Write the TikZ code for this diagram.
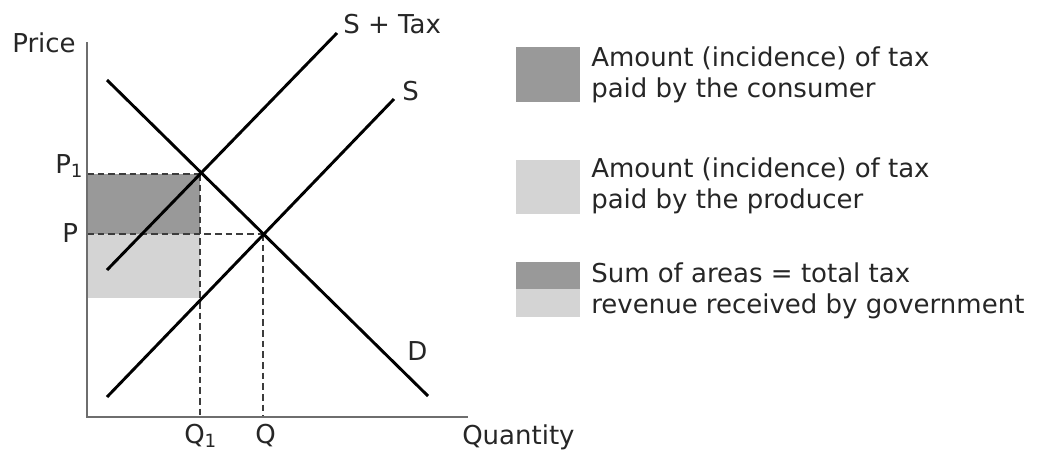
\documentclass[tikz,border=0pt]{standalone}
\usepackage{fontspec}
\setmainfont{DejaVu Sans}
\definecolor{darkfill}{RGB}{153,153,153}
\definecolor{lightfill}{RGB}{212,212,212}
\definecolor{axisgray}{RGB}{110,110,110}
\definecolor{dashgray}{RGB}{60,60,60}
\begin{document}
\begin{tikzpicture}[x=0.75pt,y=-0.75pt,
  lbl/.style={inner sep=0pt,anchor=base west,font=\fontsize{19.5pt}{23pt}\selectfont,text=black!85},
  curve/.style={line width=2.2pt,black},
  axis/.style={line width=1.5pt,axisgray},
  guide/.style={dashed,line width=0.9pt,dashgray,dash pattern=on 5pt off 3pt},
  darkbox/.style={fill=darkfill,draw=none},
  lightbox/.style={fill=lightfill,draw=none}]
\useasboundingbox (0,0) rectangle (1040,451);
% coordinates
\coordinate (O) at (87,417);
\coordinate (Ytop) at (87,42);
\coordinate (Xend) at (468,417);
\coordinate (Dstart) at (107,80);
\coordinate (Dend) at (428,396);
\coordinate (Sstart) at (107,397);
\coordinate (Send) at (394,99);
\coordinate (Tstart) at (107,270);
\coordinate (Tend) at (337,33);
\coordinate (E1) at (200,174);
\coordinate (E0) at (263,234);
\coordinate (P1y) at (87,174);
\coordinate (P0y) at (87,234);
\coordinate (Q1x) at (200,417);
\coordinate (Q0x) at (263,417);
\coordinate (Pb) at (87,298);
\coordinate (Qb) at (200,298);
% shaded areas
\fill[darkbox] (P1y) rectangle (E0 -| E1);
\fill[lightbox] (P0y) rectangle (Qb);
% guides
\draw[guide] (P1y) -- (E1);
\draw[guide] (E1) -- (Q1x);
\draw[guide] (P0y) -- (E0);
\draw[guide] (E0) -- (Q0x);
% axes
\draw[axis] (Ytop) -- (O) -- (Xend);
% curves
\draw[curve] (Dstart) -- (Dend);
\draw[curve] (Sstart) -- (Send);
\draw[curve] (Tstart) -- (Tend);
% labels
\node[lbl] (price) at (12,52) {Price};
\node[lbl] (quantity) at (462,444) {Quantity};
\node[lbl] (p1) at (55,173) {P\textsubscript{1}};
\node[lbl] (p0) at (62,242) {P};
\node[lbl] (q1) at (184,443) {Q\textsubscript{1}};
\node[lbl] (q0) at (255,443) {Q};
\node[lbl] (stax) at (343,33) {S + Tax};
\node[lbl] (slbl) at (402,100) {S};
\node[lbl] (dlbl) at (407,360) {D};
% legend
\fill[darkbox] (516,47) rectangle (580,102);
\fill[lightbox] (516,160) rectangle (580,214);
\fill[darkbox] (516,262) rectangle (580,289);
\fill[lightbox] (516,289) rectangle (580,317);
\node[lbl] (l1a) at (591,66) {Amount (incidence) of tax};
\node[lbl] (l1b) at (591,97) {paid by the consumer};
\node[lbl] (l2a) at (591,177) {Amount (incidence) of tax};
\node[lbl] (l2b) at (591,208) {paid by the producer};
\node[lbl] (l3a) at (591,282) {Sum of areas = total tax};
\node[lbl] (l3b) at (591,313) {revenue received by government};
\end{tikzpicture}
\end{document}
